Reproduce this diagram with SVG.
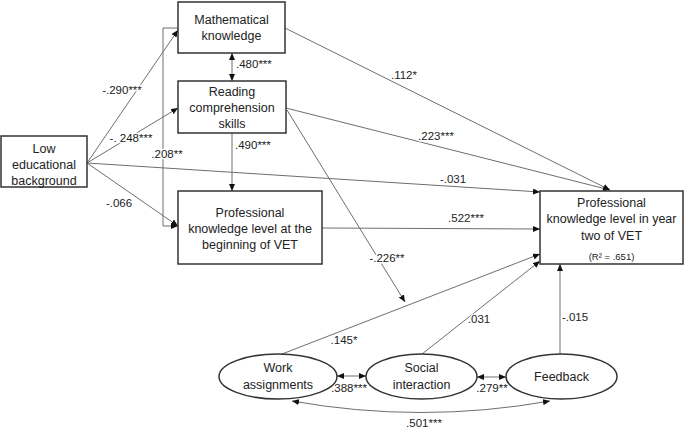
<svg xmlns="http://www.w3.org/2000/svg" width="685" height="428" viewBox="0 0 685 428">
<style>
.box{fill:#fff;stroke:#333;stroke-width:1.5}
.nt{font-family:"Liberation Sans",Arial,sans-serif;font-size:12.5px;fill:#222;text-anchor:middle}
.sm{font-size:9.5px}
.ln{fill:none;stroke:#6e6e6e;stroke-width:1}
.lb{font-family:"Liberation Sans",Arial,sans-serif;font-size:11.5px;fill:#222;text-anchor:middle;stroke:#fff;stroke-width:3;paint-order:stroke;stroke-linejoin:round}
.st{text-anchor:start}
</style>
<defs>
<marker id="ah" viewBox="0 0 7 6" refX="7" refY="3" markerWidth="7" markerHeight="6" markerUnits="userSpaceOnUse" orient="auto-start-reverse">
<path d="M0,0 L7,3 L0,6 z" fill="#111"/>
</marker>
</defs>
<g id="connectors">
<path class="ln" d="M87,163 L178,30" marker-end="url(#ah)"/>
<path class="ln" d="M87,163 L178,108" marker-end="url(#ah)"/>
<path class="ln" d="M87,163 L178,226" marker-end="url(#ah)"/>
<path class="ln" d="M87,163 L540,192" marker-end="url(#ah)"/>
<path class="ln" d="M178,28 H163 V226 H178" marker-end="url(#ah)"/>
<path class="ln" d="M232,53 V81" marker-start="url(#ah)" marker-end="url(#ah)"/>
<path class="ln" d="M232,133 V191" marker-end="url(#ah)"/>
<path class="ln" d="M285,28 L610,190" marker-end="url(#ah)"/>
<path class="ln" d="M286,108 L610,190" marker-end="url(#ah)"/>
<path class="ln" d="M322,228 L540,229" marker-end="url(#ah)"/>
<path class="ln" d="M287,110 L405,302" marker-end="url(#ah)"/>
<path class="ln" d="M282,354 L540,254" marker-end="url(#ah)"/>
<path class="ln" d="M422,354 L540,261" marker-end="url(#ah)"/>
<path class="ln" d="M560,354 V264" marker-end="url(#ah)"/>
<path class="ln" d="M337,376 H366" marker-start="url(#ah)" marker-end="url(#ah)"/>
<path class="ln" d="M477,377 H506" marker-start="url(#ah)" marker-end="url(#ah)"/>
<path class="ln" d="M292,401 Q421,424 550,401" marker-start="url(#ah)" marker-end="url(#ah)"/>
<text class="lb" x="122" y="94">-.290***</text>
<text class="lb" x="131" y="142">-.&#160;248***</text>
<text class="lb" x="167" y="158">.208**</text>
<text class="lb" x="119" y="207">-.066</text>
<text class="lb st" x="236" y="68">.480***</text>
<text class="lb st" x="235" y="149">.490***</text>
<text class="lb" x="404" y="79">.112*</text>
<text class="lb" x="436" y="140">.223***</text>
<text class="lb" x="453" y="183">-.031</text>
<text class="lb" x="466" y="222">.522***</text>
<text class="lb" x="387" y="262">-.226**</text>
<text class="lb" x="344" y="344">.145*</text>
<text class="lb" x="479" y="323">.031</text>
<text class="lb" x="575" y="321">-.015</text>
<text class="lb" x="349" y="392">.388***</text>
<text class="lb" x="492" y="392">.279**</text>
<text class="lb" x="424" y="427">.501***</text>
</g>
<g id="math">
<rect class="box" x="178" y="2" width="107" height="51"/>
<text class="nt" x="231.5" y="24">Mathematical</text>
<text class="nt" x="231.5" y="40">knowledge</text>
</g>
<g id="reading">
<rect class="box" x="178" y="81" width="108" height="52"/>
<text class="nt" x="232" y="95.5">Reading</text>
<text class="nt" x="232" y="112">comprehension</text>
<text class="nt" x="232" y="127.5">skills</text>
</g>
<g id="low">
<rect class="box" x="1" y="136" width="86" height="51"/>
<text class="nt" x="44" y="152.5">Low</text>
<text class="nt" x="44" y="168.5">educational</text>
<text class="nt" x="44" y="184.5">background</text>
</g>
<g id="profBegin">
<rect class="box" x="178" y="191" width="144" height="73"/>
<text class="nt" x="250" y="216.5">Professional</text>
<text class="nt" x="250" y="232.5">knowledge level at the</text>
<text class="nt" x="250" y="248.5">beginning of VET</text>
</g>
<g id="profYear2">
<rect class="box" x="540" y="191" width="143" height="73"/>
<text class="nt" x="611.5" y="206.5">Professional</text>
<text class="nt" x="611.5" y="223">knowledge level in year</text>
<text class="nt" x="611.5" y="239.5">two of VET</text>
<text class="nt sm" x="611.5" y="260">(R² = .651)</text>
</g>
<g id="work">
<ellipse class="box" cx="278" cy="376.5" rx="59" ry="22.5"/>
<text class="nt" x="278" y="372">Work</text>
<text class="nt" x="278" y="389">assignments</text>
</g>
<g id="social">
<ellipse class="box" cx="421.5" cy="376.5" rx="55.5" ry="22.5"/>
<text class="nt" x="421.5" y="372">Social</text>
<text class="nt" x="421.5" y="389">interaction</text>
</g>
<g id="feedback">
<ellipse class="box" cx="561.5" cy="376.5" rx="55.5" ry="22.5"/>
<text class="nt" x="561.5" y="381">Feedback</text>
</g>
</svg>
